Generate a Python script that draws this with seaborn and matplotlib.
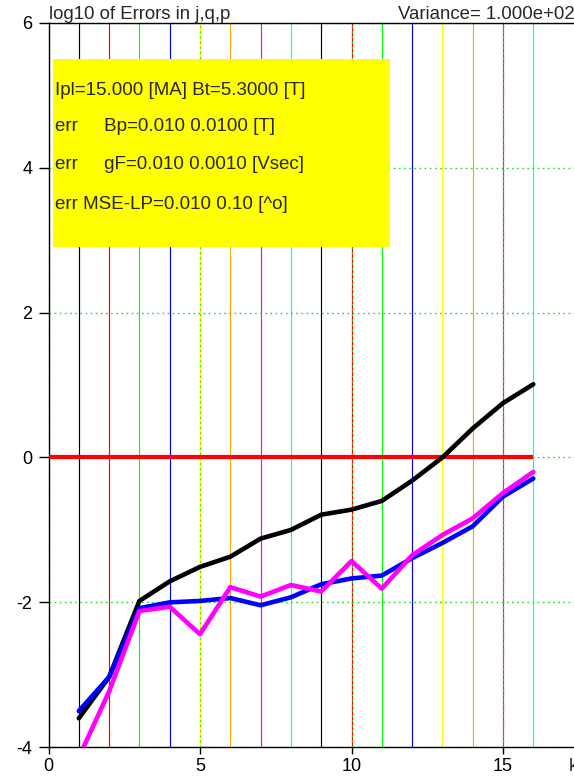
import numpy as np
import pandas as pd
import matplotlib
matplotlib.use("Agg")
import matplotlib.pyplot as plt
from matplotlib.patches import Rectangle
import seaborn as sns

# iteration index
k = list(range(1, 17))

# log10 of the errors in j, q, p per iteration
err_j = [-3.60, -3.03, -1.98, -1.71, -1.51, -1.37, -1.12, -1.00,
         -0.79, -0.72, -0.60, -0.32, 0.00, 0.40, 0.75, 1.01]
err_q = [-3.50, -3.03, -2.08, -2.00, -1.98, -1.94, -2.04, -1.93,
         -1.75, -1.67, -1.63, -1.39, -1.18, -0.95, -0.54, -0.29]
err_p = [-4.14, -3.23, -2.12, -2.06, -2.44, -1.79, -1.92, -1.76,
         -1.85, -1.43, -1.81, -1.35, -1.07, -0.84, -0.49, -0.20]

reference_level = 0.0

series_names = ["j", "q", "p"]
series_colors = ["black", "blue", "magenta"]
marker_colors = ["black", "red", "lime", "blue", "yellow", "orange", "magenta", "cyan"]

title_left = "log10 of Errors in j,q,p"
title_right = "Variance= 1.000e+02"
info_lines = [
    "Ipl=15.000 [MA] Bt=5.3000 [T]",
    "err     Bp=0.010 0.0100 [T]",
    "err     gF=0.010 0.0010 [Vsec]",
    "err MSE-LP=0.010 0.10 [^o]",
]
x_ticks = [0, 5, 10, 15]
y_ticks = [-4, -2, 0, 2, 4, 6]

df = pd.DataFrame({
    "k": k * 3,
    "log_err": err_j + err_q + err_p,
    "series": [s for s in series_names for _ in k],
})

sns.set_style("white")
plt.rcParams["font.family"] = ["Liberation Sans", "DejaVu Sans"]

fig = plt.figure(figsize=(5.74, 7.76), dpi=100)
ax = fig.add_axes([48.5 / 574, 28.7 / 776, 18 * 30.3 / 574, 724.6 / 776])
ax.set_xlim(0, 18)
ax.set_ylim(-4, 6)

# one thin coloured marker per iteration
ax.vlines(k, -4, 6, colors=[marker_colors[i % len(marker_colors)] for i in range(len(k))],
          linewidth=0.85, zorder=1)

# reference level
ax.hlines(reference_level, 0, k[-1], colors="red", linewidth=3.0, zorder=2.6)

sns.lineplot(data=df, x="k", y="log_err", hue="series", hue_order=series_names,
             palette=dict(zip(series_names, series_colors)), linewidth=3.3,
             legend=False, ax=ax, zorder=3, clip_on=True)

# info box
ax.add_patch(Rectangle((0.16, 2.905), 11.11, 2.595, facecolor="#ffff00",
                       edgecolor="none", zorder=4))
for y, line in zip([5.07, 4.57, 4.04, 3.49], info_lines):
    ax.text(0.21, y, line, fontsize=13.5, va="center", ha="left", zorder=5)

ax.set_axisbelow("line")
ax.grid(True, color="#22dd22", linestyle=(0, (1.2, 2.5)), linewidth=1.0)

ax.set_xticks(x_ticks)
ax.set_yticks(y_ticks)
ax.set_xticklabels([str(t) for t in x_ticks])
ax.set_yticklabels([str(t) for t in y_ticks])
ax.tick_params(axis="x", direction="out", length=5, width=1, pad=2.5,
               labelsize=13, bottom=True, colors="black")
ax.tick_params(axis="y", direction="out", length=7, width=1, pad=4.5,
               labelsize=13, left=True, colors="black")
for sp in ax.spines.values():
    sp.set_color("black")
    sp.set_linewidth(1.0)

ax.set_xlabel("")
ax.set_ylabel("")

ax.annotate(title_left, xy=(0, 1), xycoords="axes fraction", xytext=(0.5, 3),
            textcoords="offset points", ha="left", va="baseline", fontsize=13.4)
ax.annotate(title_right, xy=(11.53, 6), xycoords="data", xytext=(0, 3),
            textcoords="offset points", ha="left", va="baseline", fontsize=13.4,
            annotation_clip=False)
ax.annotate("k", xy=(17.18, -4), xycoords="data", xytext=(0, -7.5),
            textcoords="offset points", ha="left", va="top", fontsize=13,
            annotation_clip=False)

fig.savefig("out.png", dpi=100)
